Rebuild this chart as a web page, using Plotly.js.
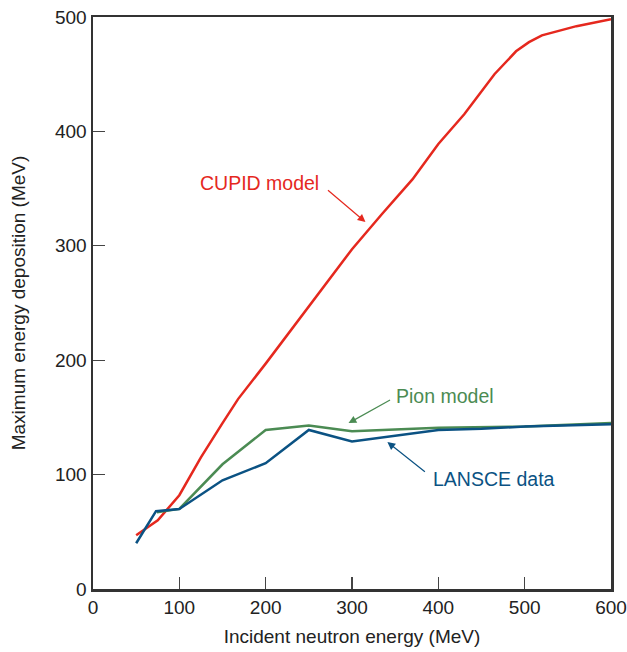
<!DOCTYPE html>
<html>
<head>
<meta charset="utf-8">
<script src="https://cdn.plot.ly/plotly-3.0.1.min.js"></script>
<style>html,body{margin:0;padding:0;background:#fff;}#chart{width:627px;height:652px;}</style>
</head>
<body>
<div id="chart"></div>
<script>
// CUPID model
const cupidEnergy = [50, 75, 100, 125, 150, 168, 200, 230, 250, 300, 335, 370, 400, 430, 465, 490, 505, 520, 560, 600];
const cupidDepos  = [47, 60, 82, 115, 145, 166, 197, 227, 248, 297, 328, 358, 389, 415, 450, 470, 478, 484, 492, 498];
// Pion model
const pionEnergy = [74, 100, 150, 200, 250, 300, 400, 500, 600];
const pionDepos  = [67, 70, 109, 139, 143, 138, 141, 142, 145];
// LANSCE data
const lansceEnergy = [50, 73, 100, 150, 200, 250, 300, 400, 450, 500, 600];
const lansceDepos  = [40, 68, 70, 95, 110, 139, 129, 139, 140, 142, 144];

const xTicks = [0, 100, 200, 300, 400, 500, 600];
const yTicks = [0, 100, 200, 300, 400, 500];

const RED = '#e5281e', GREEN = '#4b8b53', BLUE = '#0b5283';
const FONT = 'Liberation Sans, Arial, sans-serif';

const traces = [
  {x: cupidEnergy, y: cupidDepos, mode: 'lines', line: {color: RED, width: 2.5}, name: 'CUPID model'},
  {x: pionEnergy, y: pionDepos, mode: 'lines', line: {color: GREEN, width: 2.5}, name: 'Pion model'},
  {x: lansceEnergy, y: lansceDepos, mode: 'lines', line: {color: BLUE, width: 2.5}, name: 'LANSCE data'}
];

const axisCommon = {
  showgrid: false, zeroline: false, showline: true, linecolor: '#333', linewidth: 2.5,
  mirror: true, ticks: 'inside', ticklen: 12, tickwidth: 1.3, tickcolor: '#444',
  tickfont: {family: FONT, size: 19, color: '#222'}, automargin: false
};

const layout = {
  width: 627, height: 652,
  margin: {l: 93, r: 16, t: 17, b: 63},
  paper_bgcolor: '#fff', plot_bgcolor: '#fff',
  showlegend: false,
  font: {family: FONT, color: '#222'},
  xaxis: Object.assign({}, axisCommon, {
    range: [0, 600], tickvals: xTicks, ticktext: xTicks.map(String),
    title: {text: 'Incident neutron energy (MeV)', font: {family: FONT, size: 19, color: '#222'}, standoff: 13}
  }),
  yaxis: Object.assign({}, axisCommon, {
    range: [0, 500], tickvals: yTicks, ticktext: yTicks.map(String),
    title: {text: 'Maximum energy deposition (MeV)', font: {family: FONT, size: 19, color: '#222'}, standoff: 25}
  }),
  annotations: [
    {x: 315.6, y: 320.8, ax: -39, ay: -33, showarrow: true, arrowhead: 2, arrowsize: 1.3, arrowwidth: 1.2, arrowcolor: RED, text: ''},
    {x: 193, y: 355, text: 'CUPID model', showarrow: false, font: {family: FONT, size: 19.5, color: RED}},
    {x: 296, y: 145, ax: 43, ay: -24, showarrow: true, arrowhead: 2, arrowsize: 1.3, arrowwidth: 1.2, arrowcolor: GREEN, text: ''},
    {x: 408, y: 168.7, text: 'Pion model', showarrow: false, font: {family: FONT, size: 19.5, color: GREEN}},
    {x: 341, y: 128.5, ax: 39, ay: 31, showarrow: true, arrowhead: 2, arrowsize: 1.3, arrowwidth: 1.2, arrowcolor: BLUE, text: ''},
    {x: 464.5, y: 96, text: 'LANSCE data', showarrow: false, font: {family: FONT, size: 19.5, color: BLUE}}
  ]
};

Plotly.newPlot('chart', traces, layout, {staticPlot: true, displayModeBar: false});
</script>
</body>
</html>
